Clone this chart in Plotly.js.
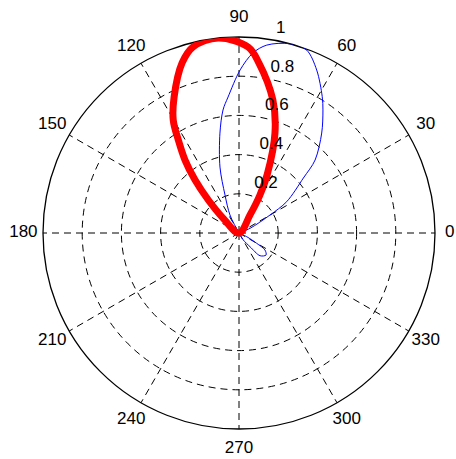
<!DOCTYPE html>
<html>
<head>
<meta charset="utf-8">
<script src="https://cdn.plot.ly/plotly-3.0.1.min.js"></script>
<style>html,body{margin:0;padding:0;background:#fff;}#chart{width:456px;height:459px;}</style>
</head>
<body>
<div id="chart"></div>
<script>
// Red (thick) pattern: angle in degrees, normalized radius
const redTheta = [58, 58.6, 61.1, 64.2, 70.2, 75.7, 83.3, 87.2, 96.1, 103.9, 108.5, 115.5, 120.2, 123.1, 126.5, 129.7, 132.9, 137, 140];
const redR     = [0, 0.108, 0.22, 0.33, 0.542, 0.70, 0.873, 0.95, 1.0, 0.978, 0.915, 0.769, 0.667, 0.567, 0.463, 0.351, 0.23, 0.11, 0];

// Blue (thin) pattern: side lobe then main lobe
const blueTheta = [-60, -58.4, -51.2, -47.2, -39.2, -33.2, -30.2, -25.7, -20, 20, 23, 30.1, 33.3, 40.5, 43.8, 50.4, 55.7, 58.6, 64.5, 69.7, 75, 81.6, 85.6, 89.6, 94.6, 97.4, 100.8, 106.1, 110.2, 116.6, 119];
const blueR     = [0, 0.042, 0.09, 0.158, 0.178, 0.158, 0.104, 0.044, 0, 0, 0.061, 0.183, 0.291, 0.432, 0.538, 0.662, 0.76, 0.815, 0.921, 0.995, 1.0, 0.969, 0.921, 0.832, 0.696, 0.633, 0.519, 0.35, 0.207, 0.103, 0];

// Tick labels
const angleTicks = [0, 30, 60, 90, 120, 150, 180, 210, 240, 270, 300, 330];
const angleLabels = ["0", "30", "60", "90", "120", "150", "180", "210", "240", "270", "300", "330"];
const radialTicks = [0.2, 0.4, 0.6, 0.8, 1];
const radialLabels = ["0.2", "0.4", "0.6", "0.8", "1"];

const FONT = "Liberation Sans, Arial, sans-serif";
const W = 456, H = 459;
const CX = 239, CY = 233, RAD = 196;   // plot circle geometry (px)
const LABEL_SCALE = 1.1;               // label circle = 1.1 * rmax
const RLABEL_ANGLE = 82;
const RLABEL_PAD = 0.01;

const R2 = RAD * LABEL_SCALE;

const traces = [
  {
    type: "scatterpolar", mode: "lines", subplot: "polar",
    r: blueR, theta: blueTheta,
    line: {color: "#0000ff", width: 1, shape: "spline", smoothing: 0.9},
    hoverinfo: "skip", showlegend: false
  },
  {
    type: "scatterpolar", mode: "lines", subplot: "polar",
    r: redR, theta: redTheta,
    line: {color: "#ff0000", width: 7, shape: "spline", smoothing: 1},
    hoverinfo: "skip", showlegend: false
  },
  {
    type: "scatterpolar", mode: "text", subplot: "polar2",
    r: radialTicks.map(v => (v + RLABEL_PAD) / LABEL_SCALE), theta: radialTicks.map(() => RLABEL_ANGLE),
    text: radialLabels.map(s => "\u00a0\u00a0" + s), textposition: "top right",
    textfont: {family: FONT, size: 17, color: "#000"},
    cliponaxis: false, hoverinfo: "skip", showlegend: false
  },
  {
    type: "scatterpolar", mode: "text", subplot: "polar2",
    r: angleTicks.map(() => 1), theta: angleTicks,
    text: angleLabels,
    textposition: angleTicks.map(a => a === 0 ? "middle left" : "middle center"),
    textfont: {family: FONT, size: 17, color: "#000"},
    cliponaxis: false, hoverinfo: "skip", showlegend: false
  }
];

const grid = {gridcolor: "#000", gridwidth: 1, griddash: "7px,5px"};

const layout = {
  width: W, height: H,
  margin: {l: 0, r: 0, t: 0, b: 0, pad: 0},
  paper_bgcolor: "#fff",
  showlegend: false,
  font: {family: FONT, size: 17, color: "#000"},
  polar: {
    bgcolor: "#fff",
    domain: {x: [(CX - RAD) / W, (CX + RAD) / W], y: [(H - CY - RAD) / H, (H - CY + RAD) / H]},
    radialaxis: Object.assign({
      range: [0, 1], tickvals: [0.2, 0.4, 0.6, 0.8],
      showticklabels: false, ticks: "", showline: false,
      layer: "below traces"
    }, grid),
    angularaxis: Object.assign({
      tickvals: angleTicks, showticklabels: false, ticks: "",
      showline: true, linecolor: "#000", linewidth: 1.3,
      rotation: 0, direction: "counterclockwise",
      layer: "below traces"
    }, grid)
  },
  polar2: {
    bgcolor: "rgba(0,0,0,0)",
    domain: {x: [(CX - R2) / W, (CX + R2) / W], y: [(H - CY - R2) / H, (H - CY + R2) / H]},
    radialaxis: {range: [0, 1], visible: false},
    angularaxis: {visible: false, rotation: 0, direction: "counterclockwise"}
  }
};

Plotly.newPlot("chart", traces, layout, {staticPlot: true, displayModeBar: false});
</script>
</body>
</html>
